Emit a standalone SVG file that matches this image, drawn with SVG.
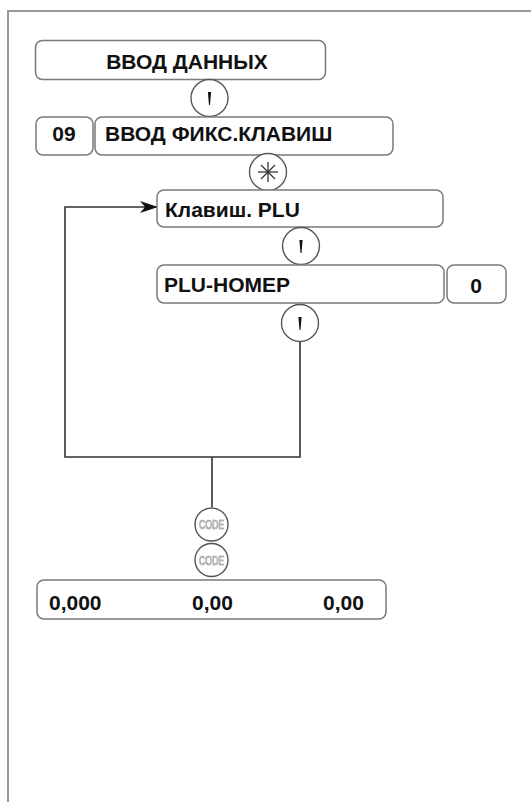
<svg xmlns="http://www.w3.org/2000/svg" width="531" height="802" viewBox="0 0 531 802">
<defs>
<style>
.box{fill:#fff;stroke:#7a7a7a;stroke-width:1.5}
.key{fill:#fff;stroke:#555;stroke-width:1.4}
.t{font-family:"Liberation Sans",Arial,sans-serif;font-weight:bold;font-size:21px;fill:#111}
.code{font-family:"Liberation Sans",Arial,sans-serif;font-size:12px;fill:#fff;stroke:#777;stroke-width:0.6}
.ln{fill:none;stroke:#333;stroke-width:1.6}
.frame{fill:none;stroke:#9a9a9a;stroke-width:2}
</style>
<marker id="ah" viewBox="0 0 18 12" markerWidth="18" markerHeight="12" refX="17" refY="6" orient="auto" markerUnits="userSpaceOnUse">
<path d="M0,0 L18,6 L0,12 L5,6 Z" fill="#111"/>
</marker>
<path id="up" d="M-1.6,-6 L1.6,-6 L0.5,7 L-0.5,7 Z" fill="#111"/>
</defs>
<rect width="531" height="802" fill="#fff"/>
<path class="frame" d="M8,802 L8,11 L531,11"/>

<g id="connectors">
<path class="ln" d="M300,341 L300,457 L65,457 L65,207 L157,207" marker-end="url(#ah)"/>
<path class="ln" d="M212,457 L212,507"/>
</g>

<g id="n1">
<rect class="box" x="35.5" y="40.5" width="290" height="39" rx="7"/>
<text class="t" x="187" y="69" text-anchor="middle">ВВОД ДАННЫХ</text>
</g>
<g id="k1">
<circle class="key" cx="209.5" cy="98" r="18.5"/>
<use href="#up" x="209.5" y="98"/>
</g>
<g id="n2a">
<rect class="box" x="36" y="117" width="57" height="38" rx="7"/>
<text class="t" x="64" y="141" text-anchor="middle">09</text>
</g>
<g id="n2b">
<rect class="box" x="95" y="117" width="298" height="38" rx="7"/>
<text class="t" x="105" y="141">ВВОД ФИКС.КЛАВИШ</text>
</g>
<g id="k2">
<circle class="key" cx="268" cy="172" r="18.5"/>
<g stroke="#333" stroke-width="1.3">
<line x1="268" y1="162" x2="268" y2="182"/>
<line x1="258" y1="172" x2="278" y2="172"/>
<line x1="261" y1="165" x2="275" y2="179"/>
<line x1="275" y1="165" x2="261" y2="179"/>
</g>
</g>
<g id="n3">
<rect class="box" x="157" y="190" width="286" height="37" rx="7"/>
<text class="t" x="165" y="217">Клавиш. PLU</text>
</g>
<g id="k3">
<circle class="key" cx="301" cy="246" r="18.5"/>
<use href="#up" x="301" y="246"/>
</g>
<g id="n4">
<rect class="box" x="157" y="265" width="287" height="38" rx="7"/>
<text class="t" x="164" y="292">PLU-НОМЕР</text>
</g>
<g id="n5">
<rect class="box" x="447" y="265" width="59" height="38" rx="7"/>
<text class="t" x="476" y="293" text-anchor="middle">0</text>
</g>
<g id="k4">
<circle class="key" cx="300" cy="323" r="18.5"/>
<use href="#up" x="300" y="323"/>
</g>
<g id="k5">
<circle class="key" cx="211.5" cy="524.5" r="16.5"/>
<text class="code" x="199" y="529" textLength="25" lengthAdjust="spacingAndGlyphs">CODE</text>
</g>
<g id="k6">
<circle class="key" cx="211.5" cy="560" r="16.5"/>
<text class="code" x="199" y="564.5" textLength="25" lengthAdjust="spacingAndGlyphs">CODE</text>
</g>
<g id="n6">
<rect class="box" x="37" y="580" width="349" height="39" rx="7"/>
<text class="t" x="49" y="610">0,000</text>
<text class="t" x="192" y="610">0,00</text>
<text class="t" x="323" y="610">0,00</text>
</g>
</svg>
